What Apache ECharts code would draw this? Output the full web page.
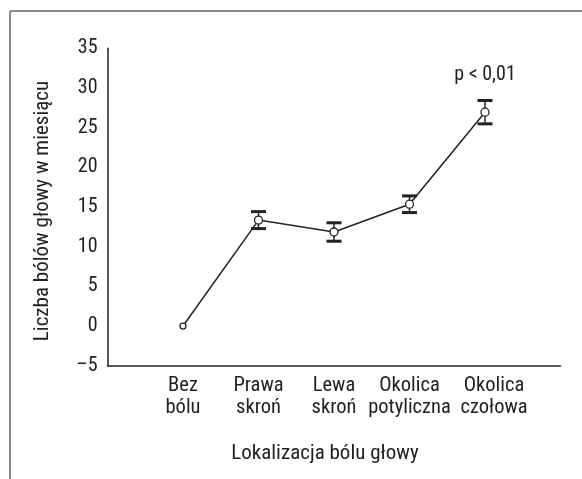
<!DOCTYPE html>
<html><head><meta charset="utf-8">
<script src="https://cdn.jsdelivr.net/npm/echarts@6/dist/echarts.min.js"></script>
<style>html,body{margin:0;padding:0;background:#fff}#c{width:582px;height:479px}</style>
</head><body><div id="c"></div>
<script>
var categories = ['Bez\nbólu', 'Prawa\nskroń', 'Lewa\nskroń', 'Okolica\npotyliczna', 'Okolica\nczołowa'];
var means = [0, 13.35, 11.85, 15.35, 26.95];
var errors = [0, 1.07, 1.16, 1.05, 1.47];
var yTicks = [-5, 0, 5, 10, 15, 20, 25, 30, 35];
var yTitle = 'Liczba bólów głowy w miesiącu';
var xTitle = 'Lokalizacja bólu głowy';
var note = 'p < 0,01';

var FAMILY = 'Roboto, "Open Sans", sans-serif';
var STRETCH = 'condensed';
var INK = '#222';
var chart = echarts.init(document.getElementById('c'));
var lineData = means.map(function (v, i) { return { value: [i + 1, v], symbolSize: i === 0 ? 6 : 8 }; });
var errData = means.map(function (v, i) { return [i + 1, v - errors[i], v + errors[i]]; }).filter(function (d, i) { return errors[i] > 0; });
var labStyle = { color: INK, fontFamily: FAMILY, fontStyle: STRETCH, fontSize: 20.5, lineHeight: 22 };

chart.setOption({
  animation: false,
  backgroundColor: '#fff',
  grid: { left: 107.5, right: 21.5, top: 48.3, bottom: 113.3 },
  xAxis: {
    type: 'value', min: 0, max: 6, interval: 1,
    axisLine: { show: true, onZero: false, lineStyle: { color: INK, width: 1.5 } },
    axisTick: { show: false }, splitLine: { show: false },
    axisLabel: {
      color: INK, fontFamily: FAMILY, fontStyle: STRETCH, fontSize: 20.5, lineHeight: 22, margin: 9,
      showMinLabel: true, showMaxLabel: true,
      rich: {
        n: labStyle,
        last: Object.assign({ padding: [0, 0, 0, 18] }, labStyle)
      },
      formatter: function (v) {
        var k = Math.round(v) - 1;
        var t = categories[k];
        if (!t) return '';
        var tag = k === categories.length - 1 ? 'last' : 'n';
        return t.split('\n').map(function (s) { return '{' + tag + '|' + s + '}'; }).join('\n');
      }
    }
  },
  yAxis: {
    type: 'value', min: yTicks[0], max: yTicks[yTicks.length - 1], interval: 5,
    axisLine: { show: true, onZero: false, lineStyle: { color: INK, width: 1.5 } },
    axisTick: { show: false }, splitLine: { show: false },
    axisLabel: {
      color: INK, fontFamily: FAMILY, fontStyle: STRETCH, fontSize: 20, margin: 10,
      formatter: function (v) { return v < 0 ? '\u2013' + Math.abs(v) : String(v); }
    }
  },
  graphic: [
    { type: 'line', silent: true, shape: { x1: 10, y1: 11, x2: 582, y2: 11 }, style: { stroke: '#666', lineWidth: 1.5 } },
    { type: 'line', silent: true, shape: { x1: 10, y1: 11, x2: 10, y2: 479 }, style: { stroke: '#666', lineWidth: 1.5 } },
    { type: 'text', x: 43, y: 211, rotation: Math.PI / 2, style: { text: yTitle, fill: INK, font: STRETCH + ' 21px ' + FAMILY, textAlign: 'center', textVerticalAlign: 'middle' } },
    { type: 'text', x: 325, y: 454, style: { text: xTitle, fill: INK, font: STRETCH + ' 21px ' + FAMILY, textAlign: 'center', textVerticalAlign: 'middle' } },
    { type: 'text', x: 485, y: 75, style: { text: note, fill: INK, font: STRETCH + ' 20px ' + FAMILY, textAlign: 'center', textVerticalAlign: 'middle' } }
  ],
  series: [
    {
      type: 'custom', z: 3,
      data: errData,
      renderItem: function (params, api) {
        var x = api.value(0);
        var lo = api.coord([x, api.value(1)]);
        var hi = api.coord([x, api.value(2)]);
        var hw = 7.5;
        return {
          type: 'group', children: [
            { type: 'line', shape: { x1: lo[0], y1: lo[1], x2: hi[0], y2: hi[1] }, style: { stroke: INK, lineWidth: 1.5 } },
            { type: 'line', shape: { x1: hi[0] - hw, y1: hi[1], x2: hi[0] + hw, y2: hi[1] }, style: { stroke: INK, lineWidth: 3 } },
            { type: 'line', shape: { x1: lo[0] - hw, y1: lo[1], x2: lo[0] + hw, y2: lo[1] }, style: { stroke: INK, lineWidth: 3 } }
          ]
        };
      }
    },
    {
      type: 'line', z: 4,
      data: lineData,
      symbol: 'circle',
      lineStyle: { color: INK, width: 1.5 },
      itemStyle: { color: '#fff', borderColor: INK, borderWidth: 1.3 }
    }
  ]
});
</script></body></html>
